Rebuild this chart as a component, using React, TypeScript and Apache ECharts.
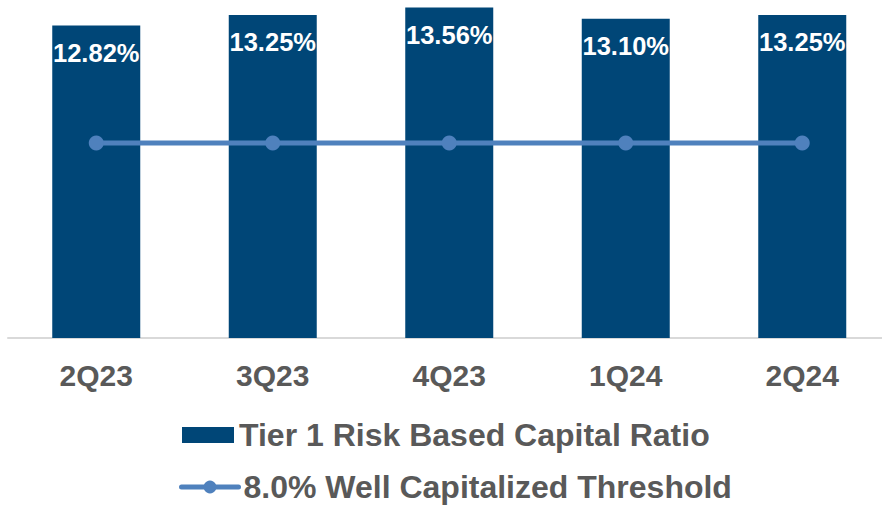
import React, { useEffect, useRef } from "react";
import * as echarts from "echarts";

const categories = ["2Q23", "3Q23", "4Q23", "1Q24", "2Q24"];
const tier1Ratio = [12.82, 13.25, 13.56, 13.1, 13.25];
const wellCapitalized = [8.0, 8.0, 8.0, 8.0, 8.0];
const seriesNames = ["Tier 1 Risk Based Capital Ratio", "8.0% Well Capitalized Threshold"];

const FONT = "Arial, 'Liberation Sans', sans-serif";

const legendText = {
  color: "#595959",
  fontSize: 32,
  fontWeight: "bold",
  fontFamily: FONT,
};

export default function App() {
  const ref = useRef<HTMLDivElement>(null);
  useEffect(() => {
    if (!ref.current) return;
    const chart = echarts.init(ref.current, null, { renderer: "svg" });
    chart.setOption({
      animation: false,
      backgroundColor: "#ffffff",
      grid: {
        left: 8,
        right: -8.5,
        top: 0,
        bottom: 167,
        outerBoundsMode: "none",
        containLabel: false,
      },
      xAxis: {
        type: "category",
        data: categories,
        axisLine: { show: true, lineStyle: { color: "#d9d9d9", width: 2 } },
        axisTick: { show: false },
        axisLabel: {
          margin: 22,
          color: "#595959",
          fontSize: 30,
          fontWeight: "bold",
          fontFamily: FONT,
        },
      },
      yAxis: {
        type: "value",
        min: 0,
        max: 13.87,
        show: false,
        splitLine: { show: false },
      },
      legend: [
        {
          left: 182,
          top: 419,
          padding: 0,
          itemWidth: 52,
          itemHeight: 16,
          textStyle: legendText,
          data: [{ name: seriesNames[0], icon: "rect" }],
        },
        {
          left: 179,
          top: 471,
          padding: 0,
          itemWidth: 57,
          itemHeight: 16,
          textStyle: legendText,
          lineStyle: { width: 5, cap: "round" },
          data: [{ name: seriesNames[1] }],
        },
      ],
      series: [
        {
          name: seriesNames[0],
          type: "bar",
          data: tier1Ratio,
          barWidth: 88,
          itemStyle: { color: "#004677" },
          label: {
            show: true,
            position: "insideTop",
            distance: 14,
            color: "#ffffff",
            fontSize: 25.5,
            fontWeight: "bold",
            fontFamily: FONT,
            formatter: (p: any) => p.value.toFixed(2) + "%",
          },
        },
        {
          name: seriesNames[1],
          type: "line",
          data: wellCapitalized,
          symbol: "circle",
          symbolSize: 15,
          lineStyle: { color: "#4f81bd", width: 5 },
          itemStyle: { color: "#4f81bd" },
          z: 3,
        },
      ],
    });
    return () => chart.dispose();
  }, []);
  return (
    <div
      ref={ref}
      style={{ position: "absolute", left: 0, top: 0, width: 882, height: 505 }}
    />
  );
}
